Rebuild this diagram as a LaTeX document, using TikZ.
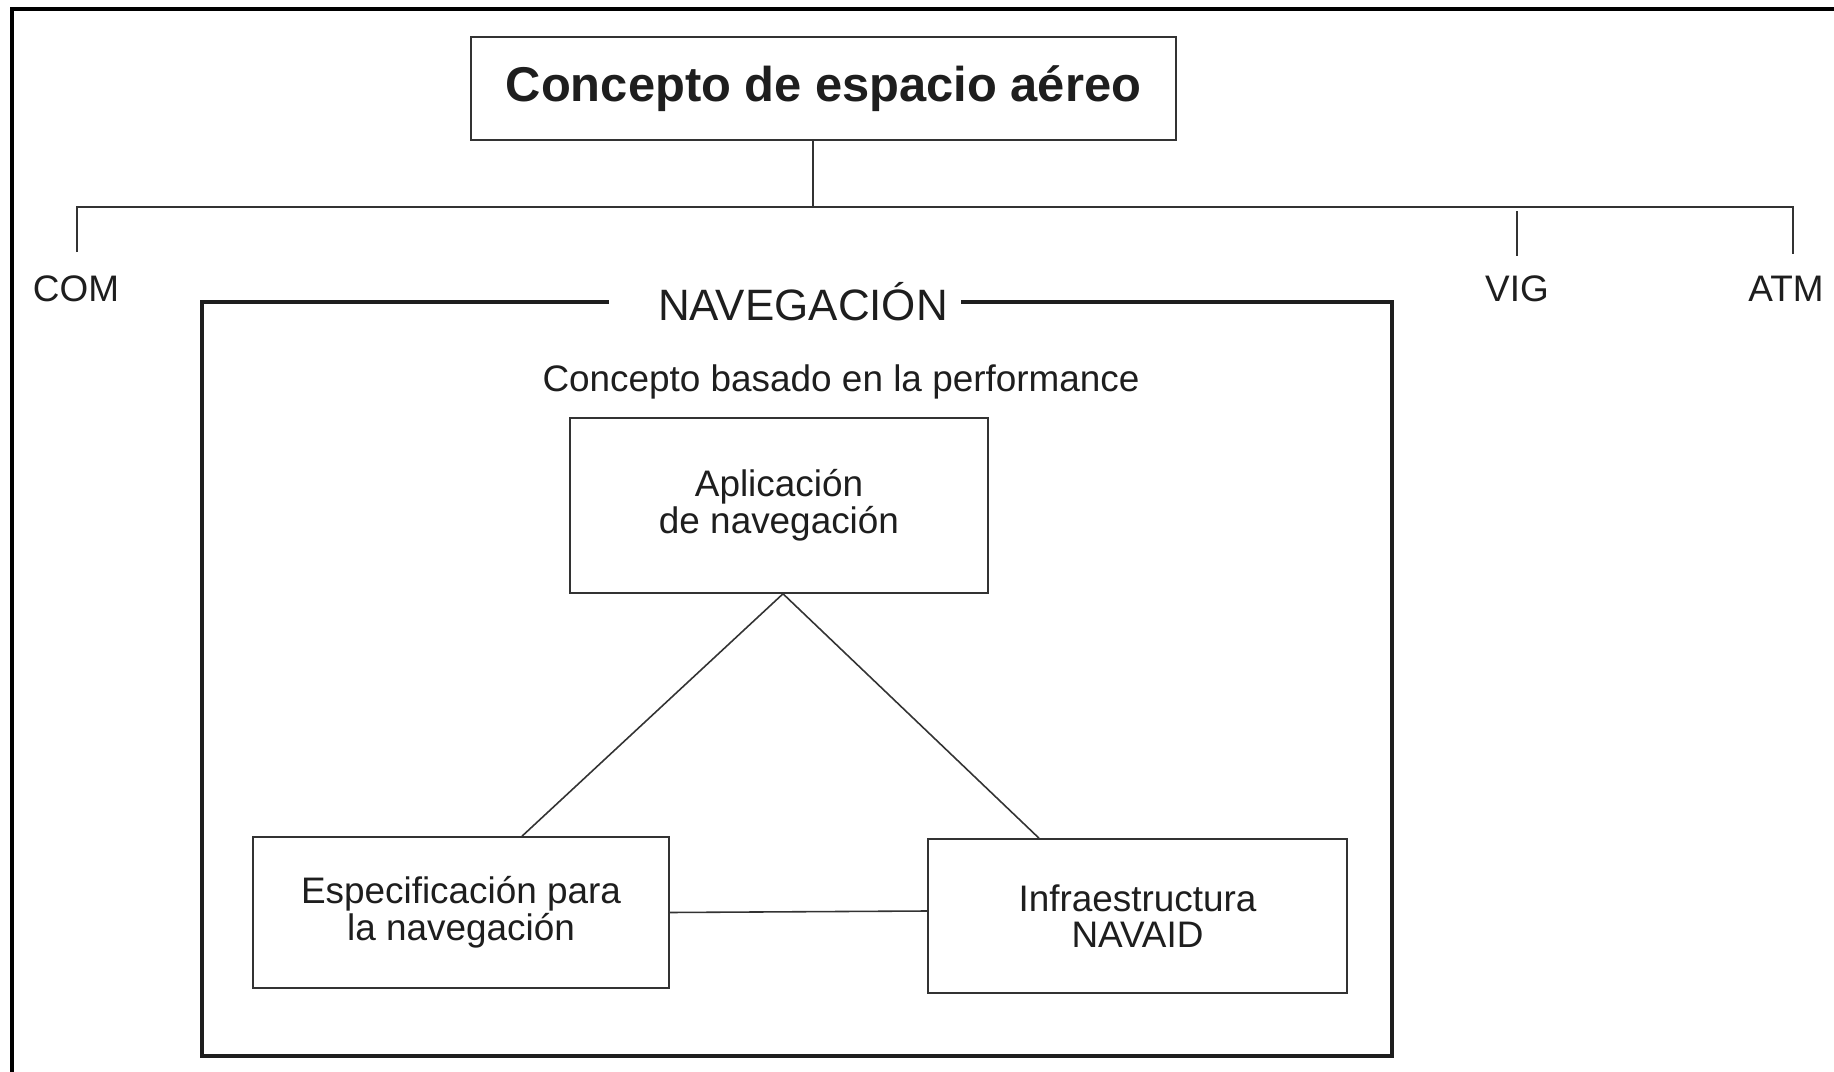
\documentclass[tikz,border=0pt]{standalone}
\usepackage{fontspec}
\setmainfont{Liberation Sans}
\definecolor{ink}{HTML}{1E1E1E}
\definecolor{linec}{HTML}{333333}
\begin{document}
\begin{tikzpicture}[x=1cm,y=1cm,
  txt/.style={font=\fontsize{10.5}{10.4}\selectfont, text=ink, align=center},
  box/.style={draw=linec, line width=0.45pt, rectangle, inner sep=0pt, txt},
  lab/.style={txt, inner sep=0pt},
  thin/.style={draw=linec, line width=0.45pt},
  heavy/.style={draw=ink, line width=1.0pt}
]
\useasboundingbox (0,0) rectangle (18.34,-10.72);
\fill[white] (0,0) rectangle (18.34,-10.72);

% outer frame (cropped: top and left only)
\draw[draw=black, line width=1.15pt] (0.117,-10.80) -- (0.117,-0.094) -- (18.40,-0.094);

% title
\node[box, minimum width=7.05cm, minimum height=1.03cm, font=\fontsize{13.9}{15}\selectfont\bfseries]
  (title) at (8.235,-0.885) {Concepto de espacio aéreo};

% branch labels
\node[lab] (com) at (0.76,-2.89) {COM};
\node[lab] (vig) at (15.17,-2.89) {VIG};
\node[lab] (atm) at (17.86,-2.89) {ATM};

% tree connectors
\coordinate (j) at (8.13,-2.07);
\coordinate (jl) at (0.77,-2.07);
\coordinate (jr) at (17.93,-2.07);
\draw[thin] (j |- title.south) -- (j);
\draw[thin] ([yshift=0.23cm]com.north -| jl) -- (jl) -- (jr) -- ([yshift=0.22cm]atm.north -| jr);
\draw[thin] ([yshift=0.64cm]vig.north) -- ([yshift=0.19cm]vig.north);

% NAVEGACION frame
\node[lab, font=\fontsize{12.5}{13}\selectfont] (nav) at (8.03,-3.02) {NAVEGACIÓN};
\draw[heavy] (6.09,-3.02) -- (2.02,-3.02) -- (2.02,-10.56) -- (13.92,-10.56) -- (13.92,-3.02) -- (9.61,-3.02);

\node[lab] (perf) at (8.41,-3.815) {Concepto basado en la performance};

% inner boxes
\node[box, minimum width=4.18cm, minimum height=1.75cm] (apl) at (7.79,-5.055) {Aplicación\\de navegación};
\node[box, minimum width=4.16cm, minimum height=1.51cm] (esp) at (4.61,-9.125) {Especificación para\\la navegación};
\node[box, minimum width=4.19cm, minimum height=1.54cm] (inf) at (11.375,-9.16) {Infraestructura\\NAVAID};

% triangle connectors
\draw[thin] ([xshift=0.61cm]esp.north) -- ([xshift=0.04cm]apl.south) -- ([xshift=-0.985cm]inf.north);
\draw[thin] ([yshift=-0.0cm]esp.east) -- ([yshift=0.015cm]esp.east -| inf.west);
\end{tikzpicture}
\end{document}
